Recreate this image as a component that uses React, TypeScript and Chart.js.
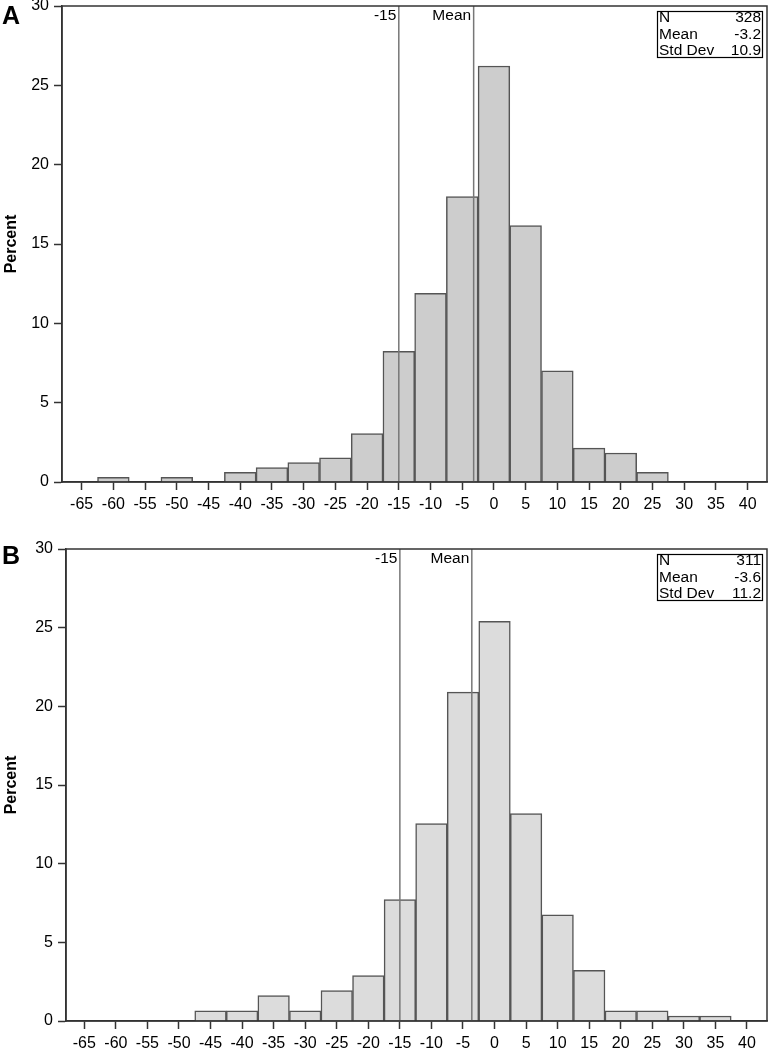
import React, { useEffect, useRef } from "react";
import { Chart, registerables } from "chart.js";

Chart.register(...registerables);

// ---- data ----
const binCenters = [-65, -60, -55, -50, -45, -40, -35, -30, -25, -20, -15, -10, -5, 0, 5, 10, 15, 20, 25, 30, 35, 40];
const xTickValues = [-65, -60, -55, -50, -45, -40, -35, -30, -25, -20, -15, -10, -5, 0, 5, 10, 15, 20, 25, 30, 35, 40];
const yTickValues = [0, 5, 10, 15, 20, 25, 30];

const percentA = [0, 0.3, 0, 0.3, 0, 0.61, 0.91, 1.22, 1.52, 3.05, 8.23, 11.89, 17.99, 26.22, 16.16, 7.01, 2.13, 1.83, 0.61, 0, 0, 0];
const percentB = [0, 0, 0, 0, 0.64, 0.64, 1.61, 0.64, 1.93, 2.89, 7.72, 12.54, 20.9, 25.4, 13.18, 6.75, 3.22, 0.64, 0.64, 0.32, 0.32, 0];

const statLabels = ["N", "Mean", "Std Dev"];
const statsA = ["328", "-3.2", "10.9"];
const statsB = ["311", "-3.6", "11.2"];

const refValue = -15;
const refLabel = "-15";
const meanA = -3.2;
const meanB = -3.6;
const meanLabel = "Mean";

const FONT = "Arial, 'Liberation Sans', Helvetica, sans-serif";

type PanelProps = {
  values: number[];
  stats: string[];
  mean: number;
  fill: string;
  xMin: number;
  xMax: number;
  canvasH: number;
  padTop: number;
  yAxisW: number;
  xAxisH: number;
};

function Panel(p: PanelProps) {
  const ref = useRef<HTMLCanvasElement | null>(null);
  useEffect(() => {
    if (!ref.current) return;
    const decor = {
      id: "decor",
      afterDatasetsDraw(chart: any) {
        const ctx = chart.ctx as CanvasRenderingContext2D;
        const a = chart.chartArea;
        const xs = chart.scales.x;
        ctx.save();
        // reference lines
        ctx.strokeStyle = "#777";
        ctx.lineWidth = 1.5;
        ctx.font = `15.5px ${FONT}`;
        ctx.fillStyle = "#000";
        ctx.textAlign = "right";
        ctx.textBaseline = "middle";
        const lines: [number, string][] = [
          [refValue, refLabel],
          [p.mean, meanLabel],
        ];
        for (const [v, lab] of lines) {
          const x = xs.getPixelForValue(v);
          ctx.beginPath();
          ctx.moveTo(x, a.top);
          ctx.lineTo(x, a.bottom);
          ctx.stroke();
          ctx.fillText(lab, x - 2.5, a.top + 10);
        }
        // frame
        ctx.strokeStyle = "#333";
        ctx.lineWidth = 1.5;
        ctx.strokeRect(a.left, a.top, a.right - a.left, a.bottom - a.top);
        // stats box
        const bx = a.right - 110;
        const bw = 105;
        const by = a.top + 5;
        const bh = 46;
        ctx.fillStyle = "#fff";
        ctx.fillRect(bx, by, bw, bh);
        ctx.strokeStyle = "#000";
        ctx.lineWidth = 1.2;
        ctx.strokeRect(bx + 0.5, by + 0.5, bw, bh);
        ctx.fillStyle = "#000";
        for (let i = 0; i < statLabels.length; i++) {
          const y = by + 7 + i * 16.5;
          ctx.textAlign = "left";
          ctx.fillText(statLabels[i], bx + 2, y);
          ctx.textAlign = "right";
          ctx.fillText(p.stats[i], bx + bw - 1, y);
        }
        ctx.restore();
      },
    };

    const chart = new Chart(ref.current, {
      type: "bar",
      data: {
        datasets: [
          {
            data: binCenters.map((x, i) => ({ x, y: p.values[i] })),
            backgroundColor: p.fill,
            borderColor: "#555",
            borderWidth: 1.5,
            borderSkipped: "start",
            barPercentage: 1,
            categoryPercentage: 1,
          } as any,
        ],
      },
      options: {
        animation: false,
        responsive: false,
        maintainAspectRatio: false,
        devicePixelRatio: 1,
        layout: { padding: { top: p.padTop, right: 4, left: 0, bottom: 0 } },
        plugins: { legend: { display: false }, tooltip: { enabled: false }, title: { display: false } },
        scales: {
          x: {
            type: "linear",
            offset: false,
            min: p.xMin,
            max: p.xMax,
            afterBuildTicks: (s: any) => {
              s.ticks = xTickValues.map((v) => ({ value: v }));
            },
            afterFit: (s: any) => {
              s.height = p.xAxisH;
            },
            ticks: {
              autoSkip: false,
              maxRotation: 0,
              minRotation: 0,
              padding: 5,
              color: "#000",
              font: { family: FONT, size: 16 },
              callback: (v: any) => String(v),
            },
            grid: { display: true, offset: false, drawOnChartArea: false, drawTicks: true, tickLength: 8, tickColor: "#333", tickWidth: 1.5 },
            border: { display: true, color: "#333", width: 1.5 },
          },
          y: {
            type: "linear",
            min: 0,
            max: 30,
            afterBuildTicks: (s: any) => {
              s.ticks = yTickValues.map((v) => ({ value: v }));
            },
            afterFit: (s: any) => {
              s.width = p.yAxisW;
            },
            ticks: {
              padding: 5,
              color: "#000",
              font: { family: FONT, size: 16 },
            },
            grid: { display: true, drawOnChartArea: false, drawTicks: true, tickLength: 8, tickColor: "#333", tickWidth: 1.5 },
            border: { display: true, color: "#333", width: 1.5 },
            title: {
              display: true,
              text: "Percent",
              color: "#000",
              font: { family: FONT, size: 16, weight: "bold" },
              padding: { top: 2, bottom: 0 },
            },
          },
        },
      } as any,
      plugins: [decor],
    });
    return () => chart.destroy();
  }, []);
  return <canvas ref={ref} width={771} height={p.canvasH} style={{ display: "block", width: 771, height: p.canvasH }} />;
}

const labelStyle: React.CSSProperties = {
  position: "absolute",
  left: 2,
  fontFamily: FONT,
  fontWeight: "bold",
  fontSize: 25,
  lineHeight: "25px",
  color: "#000",
};

export default function App() {
  return (
    <div style={{ position: "absolute", left: 0, top: 0, width: 771, height: 1052, overflow: "hidden", background: "#fff" }}>
      <div style={{ position: "absolute", left: 0, top: -14 }}>
        <Panel values={percentA} stats={statsA} mean={meanA} fill="#cdcdcd" xMin={-68.1} xMax={43.05} canvasH={534} padTop={20} yAxisW={62} xAxisH={38} />
      </div>
      <div style={{ position: "absolute", left: 0, top: 520 }}>
        <Panel values={percentB} stats={statsB} mean={meanB} fill="#dcdcdc" xMin={-67.9} xMax={43.17} canvasH={532} padTop={29} yAxisW={66} xAxisH={31} />
      </div>
      <div style={{ ...labelStyle, top: 3 }}>A</div>
      <div style={{ ...labelStyle, top: 543 }}>B</div>
    </div>
  );
}
